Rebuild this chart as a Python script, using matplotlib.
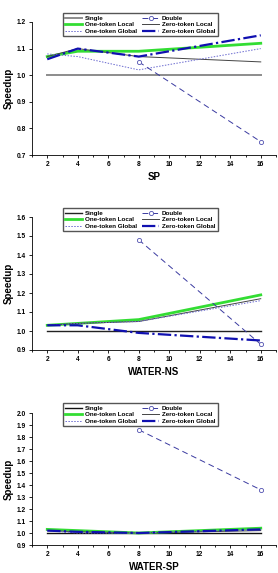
import matplotlib
matplotlib.use("Agg")
import matplotlib.pyplot as plt
from matplotlib.ticker import MultipleLocator, FormatStrFormatter

plt.rcParams["font.family"] = ["Liberation Sans", "DejaVu Sans"]
plt.rcParams["font.weight"] = "bold"

threads = [2, 4, 8, 16]
double_x = [8, 16]

titles = ["SP", "WATER-NS", "WATER-SP"]

single = [[1.0, 1.0, 1.0, 1.0]] * 3
double = [[1.05, 0.75], [1.48, 0.93], [1.86, 1.36]]
one_local = [
    [1.07, 1.09, 1.09, 1.12],
    [1.03, 1.04, 1.06, 1.19],
    [1.03, 1.02, 1.00, 1.04],
]
zero_local = [
    [1.07, 1.10, 1.07, 1.05],
    [1.03, 1.04, 1.05, 1.17],
    [1.02, 1.01, 1.00, 1.02],
]
one_global = [
    [1.08, 1.07, 1.02, 1.10],
    [1.03, 1.04, 1.05, 1.16],
    [1.02, 1.00, 1.00, 1.03],
]
zero_global = [
    [1.06, 1.10, 1.07, 1.15],
    [1.03, 1.03, 0.99, 0.95],
    [1.02, 1.01, 1.00, 1.03],
]

ylims = [(0.7, 1.2), (0.9, 1.6), (0.9, 2.0)]
single_colors = ["#8c8c8c", "#222222", "#111111"]

W, H = 278, 573
# axes boxes in pixels: left, top, right, bottom
boxes = [(32, 22, 276, 155), (32, 217, 276, 350), (32, 413, 276, 545)]
legend_tops = [10, 205, 400]

fig = plt.figure(figsize=(W / 100, H / 100), dpi=100)

for i in range(3):
    l, t, r, b = boxes[i]
    ax = fig.add_axes([l / W, 1 - b / H, (r - l) / W, (b - t) / H])

    h_single, = ax.plot(threads, single[i], color=single_colors[i], lw=1.4 if i == 0 else 1.0)
    h_ol, = ax.plot(threads, one_local[i], color="#33dd33", lw=2.0)
    h_zl, = ax.plot(threads, zero_local[i], color="#444444", lw=0.7)
    h_og, = ax.plot(threads, one_global[i], color="#6a6ad0", lw=0.7, ls=(0, (1.5, 1.5)))
    h_zg, = ax.plot(threads, zero_global[i], color="#1010b0", lw=1.6, ls=(0, (6, 1.5, 1, 1.5)))
    h_double, = ax.plot(double_x, double[i], color="#3a3aa0", lw=0.7, ls=(0, (6, 4)),
                        marker="o", mfc="white", mec="#5050b0", ms=3.0, mew=0.6)

    ax.set_xlim(1, 17)
    ax.set_ylim(*ylims[i])
    ax.xaxis.set_major_locator(MultipleLocator(2))
    ax.xaxis.set_minor_locator(MultipleLocator(1))
    ax.yaxis.set_major_locator(MultipleLocator(0.1))
    ax.yaxis.set_major_formatter(FormatStrFormatter("%.1f"))
    ax.tick_params(axis="both", which="both", direction="out", labelsize=4.8, width=0.6, pad=2)
    ax.tick_params(axis="both", which="major", length=2.5)
    ax.tick_params(axis="both", which="minor", length=1.5)
    for s in ["top", "right"]:
        ax.spines[s].set_visible(False)
    for s in ["left", "bottom"]:
        ax.spines[s].set_linewidth(0.6)
    ax.set_xlabel(titles[i], fontsize=7, fontweight="bold")
    ax.xaxis.set_label_coords(0.5, -0.125)
    ax.set_ylabel("Speedup", fontsize=7, fontweight="bold")
    ax.yaxis.set_label_coords(-0.075, 0.5)

    handles = [h_single, h_ol, h_og, h_double, h_zl, h_zg]
    labels = ["Single", "One-token Local", "One-token Global",
              "Double", "Zero-token Local", "Zero-token Global"]
    fig.legend(handles, labels, ncol=2, loc="upper center",
               bbox_to_anchor=(140 / W, 1 - legend_tops[i] / H),
               fontsize=4.5, frameon=True, fancybox=False, edgecolor="#555555",
               handlelength=2.8, handletextpad=0.4, columnspacing=0.8,
               labelspacing=0.2, borderpad=0.35, framealpha=1)

fig.savefig("out.png", dpi=100)
